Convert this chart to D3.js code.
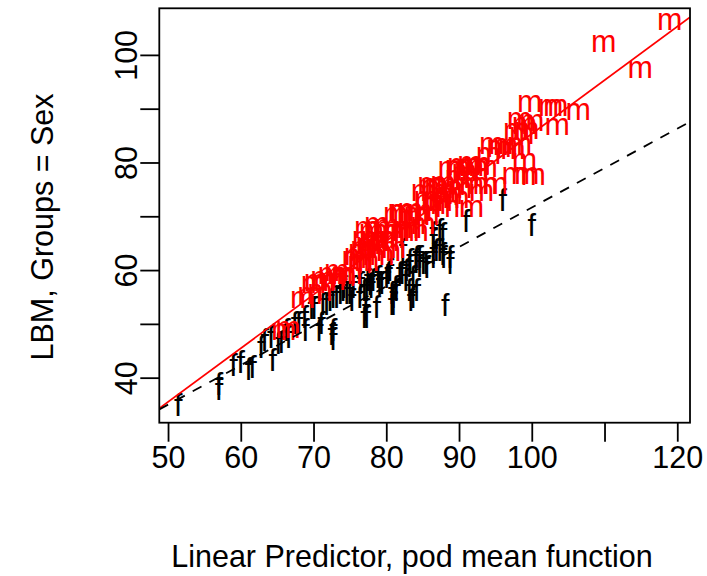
<!DOCTYPE html>
<html>
<head>
<meta charset="utf-8">
<script src="https://cdn.jsdelivr.net/npm/d3@7"></script>
<style>
  body { margin: 0; background: #fff; }
  svg { display: block; font-family: "Liberation Sans", Arial, Helvetica, sans-serif; }
</style>
</head>
<body>
<svg id="chart" width="707" height="576"></svg>
<script>
// female points [linear predictor, LBM]
const females = [
  [51.4,34.9],[57.0,38.9],[57.0,38.0],[59.0,42.3],[60.0,42.9],[61.1,41.7],[61.6,42.0],[62.8,45.7],[63.3,47.0],[64.4,43.3],
  [64.2,47.6],[65.2,46.4],[65.6,46.7],[66.6,47.6],[66.3,48.9],[67.45,50.1],[68.0,50.1],[68.8,51.3],[68.9,48.9],[69.75,52.9],
  [70.1,52.9],[70.8,48.9],[71.1,50.1],[72.5,48.2],[72.7,47.3],[72.7,48.9],[71.3,53.8],[71.8,53.8],[72.3,54.4],[72.7,55.1],
  [73.2,55.05],[73.7,55.7],[74.1,56.3],[74.2,56.9],[74.6,55.7],[75.0,55.7],[75.3,54.45],[75.5,56.9],[76.4,55.05],[76.5,57.6],
  [77.0,56.3],[77.3,56.3],[77.3,51.3],[77.0,51.3],[77.2,52.6],[77.5,58.2],[77.8,57.5],[77.95,56.9],[78.2,58.2],[78.7,53.2],
  [78.9,58.8],[79.1,57.5],[79.4,57.6],[80.05,58.8],[80.3,59.4],[80.5,60.0],[80.8,55.7],[80.8,53.8],[81.0,53.8],[81.0,55.05],
  [81.3,56.9],[81.4,56.3],[81.9,59.4],[82.2,59.4],[82.3,63.7],[82.7,58.2],[82.8,60.0],[83.2,56.3],[83.2,60.7],[83.3,61.9],
  [83.4,54.45],[83.7,58.8],[83.7,55.05],[84.1,61.9],[84.2,56.3],[84.2,62.5],[84.6,62.5],[84.6,60.7],[85.1,61.3],[85.5,61.3],
  [85.6,60.6],[86.5,62.5],[86.5,63.2],[86.5,65.6],[86.5,66.9],[86.9,63.7],[87.4,67.5],[87.4,63.8],[87.8,63.1],[87.8,66.8],
  [87.9,62.5],[88.8,62.5],[88.8,61.3],[88.1,53.5],[91.0,69.1],[96.0,73.1],[100.0,68.45]
];

// male points
const males = [
  [118.97,106.1],[109.9,102.05],[114.9,97.1],[99.7,90.85],[102.6,90.2],[103.3,90.2],[106.4,89.3],[103.5,86.5],
  [98.3,87.7],[99.0,86.8],[97.8,85.6],[98.6,84.9],[99.3,85.9],[100.0,87.4],
  [94.5,83.1],[95.5,82.45],[96.4,82.8],[97.4,82.1],[98.3,83.1],[94.05,81.2],
  [99.0,80.0],[99.3,77.5],[97.6,77.5],[100.2,77.2],
  [89.8,78.7],[90.7,78.1],[91.7,79.0],[92.6,79.3],[93.6,78.7],[89.8,76.85],[91.7,75.6],[93.6,75.6],[95.0,75.6],[93.1,74.4],
  [86.0,75.6],[86.95,75.0],[87.9,74.4],[88.8,73.7],[85.5,73.1],[86.5,71.9],[87.4,72.5],[88.4,71.25],[91.7,71.25],
  [81.3,70.0],[82.2,70.6],[83.2,69.4],[84.1,70.0],[81.3,67.5],[82.2,66.9],[83.2,67.5],[84.1,66.9],[85.05,68.1],
  [77.0,65.65],[77.95,66.9],[78.9,67.5],[79.8,66.9],[80.8,65.65],[76.5,63.2],[77.5,64.4],[78.4,63.8],[79.4,62.5],[80.3,63.2],
  [75.6,61.9],[76.5,61.3],
  [70.4,57.6],[71.3,58.2],[72.3,58.8],[73.2,59.4],[74.2,58.8],[68.5,54.45],[65.9,48.5],
  [66.5,48.9],[70.0,57.2],[71.3,57.5],[72.7,57.8],[74.1,58.5],[75.0,58.8],[69.5,55.1],[70.9,55.7],
  [75.9,62.5],[76.8,63.7],[77.8,64.35],[78.7,65.0],[79.6,65.3],[76.4,60.9],[77.3,61.3],
  [77.3,67.45],[78.7,68.1],[80.1,67.8],[81.4,66.8],[82.8,67.45],[78.2,65.6],[80.1,65.0],[81.0,63.7],
  [81.9,70.55],[83.3,70.85],[84.6,70.55],[85.6,69.9],[85.1,74.3],[86.5,75.5],[87.8,75.8],[89.2,75.5],[90.1,74.9],
  [85.6,72.4],[86.9,73.0],[88.3,73.65],[89.7,73.0],[88.8,78.6],[90.1,79.2],[91.5,79.5],[92.6,79.2],[91.05,76.7],[92.4,77.35]
];

// fitted lines: [intercept, slope]
const maleFit = [-14.32, 0.9965];
const femaleFit = [-1.67, 0.733];

const xTicks = [50, 60, 70, 80, 90, 100, 110, 120];
const xTickLabels = ['50', '60', '70', '80', '90', '100', '', '120'];
const yTicks = [40, 50, 60, 70, 80, 90, 100];
const yTickLabels = ['40', '', '60', '', '80', '', '100'];

const xTitle = 'Linear Predictor, pod mean function';
const yTitle = 'LBM, Groups = Sex';

const box = {left: 159.3, right: 690, top: 8.3, bottom: 422.7};
const fontSize = 30.5;

const x = d3.scaleLinear().domain([48.8, 121.75]).range([box.left, box.right]);
const y = d3.scaleLinear().domain([31.63, 108.66]).range([box.bottom, box.top]);

const svg = d3.select('#chart');

svg.append('rect')
    .attr('width', 707)
    .attr('height', 576)
    .attr('fill', '#fff');

svg.append('clipPath')
    .attr('id', 'plotClip')
    .append('rect')
    .attr('x', box.left)
    .attr('y', box.top)
    .attr('width', box.right - box.left)
    .attr('height', box.bottom - box.top);

const plot = svg.append('g').attr('clip-path', 'url(#plotClip)');

// points drawn as letters, each glyph centred on its value
const drawLetters = (data, letter, colour, shift) => {
    plot.append('g')
        .selectAll('text')
        .data(data)
        .enter()
        .append('text')
        .attr('x', d => x(d[0]))
        .attr('y', d => y(d[1]) + shift * fontSize)
        .attr('text-anchor', 'middle')
        .attr('font-size', fontSize)
        .attr('fill', colour)
        .text(letter);
};

drawLetters(females, 'f', '#000', 0.364);
drawLetters(males, 'm', '#ff0000', 0.26);

// fitted lines across the full x range
const [x0, x1] = x.domain();
const fitLine = ([a, b]) => d3.line()
    .x(d => x(d))
    .y(d => y(a + b * d))([x0, x1]);

plot.append('path')
    .attr('d', fitLine(maleFit))
    .attr('stroke', '#ff0000')
    .attr('stroke-width', 1.8)
    .attr('fill', 'none');

plot.append('path')
    .attr('d', fitLine(femaleFit))
    .attr('stroke', '#000')
    .attr('stroke-width', 1.8)
    .attr('stroke-dasharray', '10,9')
    .attr('fill', 'none');

// axes
const xAxis = svg.append('g')
    .attr('transform', `translate(0,${box.bottom})`)
    .call(d3.axisBottom(x).tickValues(xTicks).tickSize(19)
        .tickFormat((d, i) => xTickLabels[i]));

const yAxis = svg.append('g')
    .attr('transform', `translate(${box.left},0)`)
    .call(d3.axisLeft(y).tickValues(yTicks).tickSize(19)
        .tickFormat((d, i) => yTickLabels[i]));

[xAxis, yAxis].forEach(a => {
    a.select('.domain').remove();
    a.selectAll('.tick line').attr('stroke', '#000').attr('stroke-width', 1.8);
    a.selectAll('.tick text')
        .attr('font-size', fontSize)
        .attr('font-family', '"Liberation Sans", Arial, sans-serif')
        .attr('fill', '#000');
});

xAxis.selectAll('.tick text')
    .attr('y', 34)
    .attr('dy', '0.36em');

yAxis.selectAll('.tick text')
    .attr('x', 0)
    .attr('y', 0)
    .attr('dy', '0.36em')
    .attr('text-anchor', 'middle')
    .attr('transform', 'translate(-33,0) rotate(-90)');

// plot frame
svg.append('rect')
    .attr('x', box.left)
    .attr('y', box.top)
    .attr('width', box.right - box.left)
    .attr('height', box.bottom - box.top)
    .attr('fill', 'none')
    .attr('stroke', '#000')
    .attr('stroke-width', 1.8);

// titles
svg.append('text')
    .attr('x', 412)
    .attr('y', box.bottom + 133)
    .attr('dy', '0.36em')
    .attr('text-anchor', 'middle')
    .attr('font-size', fontSize)
    .text(xTitle);

svg.append('text')
    .attr('transform', `translate(${box.left - 117},227) rotate(-90)`)
    .attr('dy', '0.36em')
    .attr('text-anchor', 'middle')
    .attr('font-size', fontSize)
    .text(yTitle);
</script>
</body>
</html>
